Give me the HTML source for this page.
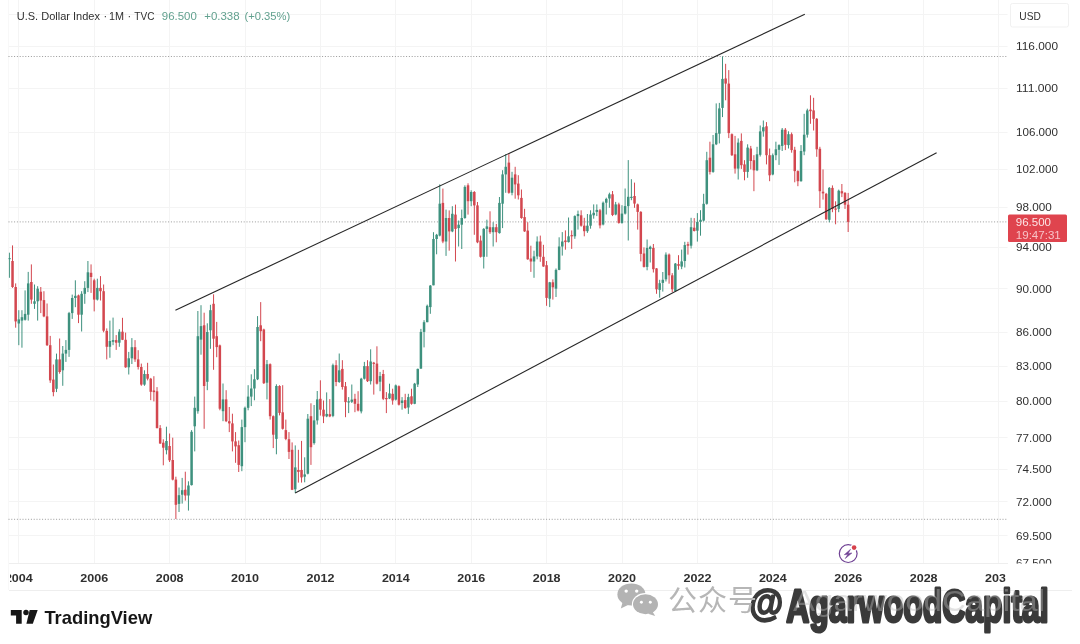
<!DOCTYPE html><html><head><meta charset="utf-8"><title>U.S. Dollar Index</title>
<style>html,body{margin:0;padding:0;background:#fff}body{width:1080px;height:644px;overflow:hidden;font-family:"Liberation Sans","Noto Sans CJK SC",sans-serif}svg{display:block;filter:blur(0.4px)}text{font-family:"Liberation Sans","Noto Sans CJK SC",sans-serif}</style></head><body>
<svg width="1080" height="644" viewBox="0 0 1080 644">
<rect width="1080" height="644" fill="#fff"/>
<defs><clipPath id="pane"><rect x="8.5" y="0" width="999" height="563.5"/></clipPath><clipPath id="taxis"><rect x="10" y="563" width="995.5" height="30"/></clipPath><clipPath id="paxis"><rect x="1008" y="0" width="72" height="563.5"/></clipPath></defs>
<g clip-path="url(#pane)" stroke="#f4f4f4" stroke-width="1" shape-rendering="crispEdges">
<line x1="18.8" y1="0" x2="18.8" y2="563.5"/>
<line x1="94.2" y1="0" x2="94.2" y2="563.5"/>
<line x1="169.6" y1="0" x2="169.6" y2="563.5"/>
<line x1="245.0" y1="0" x2="245.0" y2="563.5"/>
<line x1="320.4" y1="0" x2="320.4" y2="563.5"/>
<line x1="395.8" y1="0" x2="395.8" y2="563.5"/>
<line x1="471.2" y1="0" x2="471.2" y2="563.5"/>
<line x1="546.6" y1="0" x2="546.6" y2="563.5"/>
<line x1="622.0" y1="0" x2="622.0" y2="563.5"/>
<line x1="697.4" y1="0" x2="697.4" y2="563.5"/>
<line x1="772.8" y1="0" x2="772.8" y2="563.5"/>
<line x1="848.2" y1="0" x2="848.2" y2="563.5"/>
<line x1="923.6" y1="0" x2="923.6" y2="563.5"/>
<line x1="998.9" y1="0" x2="998.9" y2="563.5"/>
<line x1="8.5" y1="14.0" x2="1007.5" y2="14.0"/>
<line x1="8.5" y1="46.4" x2="1007.5" y2="46.4"/>
<line x1="8.5" y1="88.5" x2="1007.5" y2="88.5"/>
<line x1="8.5" y1="132.5" x2="1007.5" y2="132.5"/>
<line x1="8.5" y1="169.2" x2="1007.5" y2="169.2"/>
<line x1="8.5" y1="207.4" x2="1007.5" y2="207.4"/>
<line x1="8.5" y1="247.2" x2="1007.5" y2="247.2"/>
<line x1="8.5" y1="288.8" x2="1007.5" y2="288.8"/>
<line x1="8.5" y1="332.2" x2="1007.5" y2="332.2"/>
<line x1="8.5" y1="366.1" x2="1007.5" y2="366.1"/>
<line x1="8.5" y1="401.2" x2="1007.5" y2="401.2"/>
<line x1="8.5" y1="437.7" x2="1007.5" y2="437.7"/>
<line x1="8.5" y1="469.3" x2="1007.5" y2="469.3"/>
<line x1="8.5" y1="501.9" x2="1007.5" y2="501.9"/>
<line x1="8.5" y1="535.6" x2="1007.5" y2="535.6"/>
<line x1="8.5" y1="563.5" x2="1007.5" y2="563.5"/>
</g>
<g stroke="#eeeeee" stroke-width="1" shape-rendering="crispEdges">
<line x1="8.5" y1="563.5" x2="1007.5" y2="563.5"/>
<line x1="8.5" y1="590.5" x2="1072" y2="590.5"/>
</g>
<line x1="8.5" y1="0" x2="8.5" y2="590" stroke="#f8f8f8" stroke-width="1" shape-rendering="crispEdges"/>
<g stroke="#9a9a9a" stroke-width="1" stroke-dasharray="1 1.8" fill="none">
<line x1="8.5" y1="56.5" x2="1007.5" y2="56.5"/>
<line x1="8.5" y1="221.9" x2="1007.5" y2="221.9"/>
<line x1="8.5" y1="519.3" x2="1007.5" y2="519.3"/>
</g>
<g clip-path="url(#pane)">
<line x1="9.38" y1="252.7" x2="9.38" y2="277.8" stroke="#3e917e" stroke-width="1"/>
<rect x="8.13" y="258.0" width="2.5" height="1.2" fill="#3e917e"/>
<line x1="12.52" y1="245.4" x2="12.52" y2="287.9" stroke="#d3474f" stroke-width="1"/>
<rect x="11.27" y="261.0" width="2.5" height="26.0" fill="#d3474f"/>
<line x1="15.66" y1="283.4" x2="15.66" y2="327.7" stroke="#d3474f" stroke-width="1"/>
<rect x="14.41" y="287.0" width="2.5" height="34.4" fill="#d3474f"/>
<line x1="18.80" y1="310.2" x2="18.80" y2="345.2" stroke="#3e917e" stroke-width="1"/>
<rect x="17.55" y="319.4" width="2.5" height="4.1" fill="#3e917e"/>
<line x1="21.94" y1="310.2" x2="21.94" y2="347.7" stroke="#3e917e" stroke-width="1"/>
<rect x="20.69" y="317.2" width="2.5" height="3.4" fill="#3e917e"/>
<line x1="25.08" y1="290.4" x2="25.08" y2="320.6" stroke="#3e917e" stroke-width="1"/>
<rect x="23.83" y="313.9" width="2.5" height="5.9" fill="#3e917e"/>
<line x1="28.22" y1="271.9" x2="28.22" y2="320.6" stroke="#3e917e" stroke-width="1"/>
<rect x="26.97" y="283.4" width="2.5" height="31.3" fill="#3e917e"/>
<line x1="31.37" y1="264.4" x2="31.37" y2="303.8" stroke="#d3474f" stroke-width="1"/>
<rect x="30.12" y="282.0" width="2.5" height="17.6" fill="#d3474f"/>
<line x1="34.51" y1="284.5" x2="34.51" y2="308.9" stroke="#3e917e" stroke-width="1"/>
<rect x="33.26" y="301.3" width="2.5" height="2.5" fill="#3e917e"/>
<line x1="37.65" y1="286.2" x2="37.65" y2="320.6" stroke="#3e917e" stroke-width="1"/>
<rect x="36.40" y="288.7" width="2.5" height="12.6" fill="#3e917e"/>
<line x1="40.79" y1="287.0" x2="40.79" y2="313.1" stroke="#d3474f" stroke-width="1"/>
<rect x="39.54" y="291.7" width="2.5" height="8.8" fill="#d3474f"/>
<line x1="43.93" y1="291.2" x2="43.93" y2="317.2" stroke="#d3474f" stroke-width="1"/>
<rect x="42.68" y="300.1" width="2.5" height="16.3" fill="#d3474f"/>
<line x1="47.07" y1="303.5" x2="47.07" y2="346.0" stroke="#d3474f" stroke-width="1"/>
<rect x="45.82" y="316.4" width="2.5" height="28.8" fill="#d3474f"/>
<line x1="50.22" y1="335.9" x2="50.22" y2="382.9" stroke="#d3474f" stroke-width="1"/>
<rect x="48.97" y="345.2" width="2.5" height="35.2" fill="#d3474f"/>
<line x1="53.36" y1="364.5" x2="53.36" y2="396.3" stroke="#d3474f" stroke-width="1"/>
<rect x="52.11" y="379.6" width="2.5" height="12.5" fill="#d3474f"/>
<line x1="56.50" y1="353.6" x2="56.50" y2="392.1" stroke="#3e917e" stroke-width="1"/>
<rect x="55.25" y="359.4" width="2.5" height="29.4" fill="#3e917e"/>
<line x1="59.64" y1="338.5" x2="59.64" y2="373.7" stroke="#d3474f" stroke-width="1"/>
<rect x="58.39" y="359.4" width="2.5" height="12.6" fill="#d3474f"/>
<line x1="62.78" y1="346.0" x2="62.78" y2="385.8" stroke="#3e917e" stroke-width="1"/>
<rect x="61.53" y="353.6" width="2.5" height="16.7" fill="#3e917e"/>
<line x1="65.92" y1="340.1" x2="65.92" y2="361.9" stroke="#3e917e" stroke-width="1"/>
<rect x="64.67" y="349.9" width="2.5" height="3.7" fill="#3e917e"/>
<line x1="69.06" y1="311.9" x2="69.06" y2="356.9" stroke="#3e917e" stroke-width="1"/>
<rect x="67.81" y="313.1" width="2.5" height="36.8" fill="#3e917e"/>
<line x1="72.21" y1="294.6" x2="72.21" y2="318.9" stroke="#3e917e" stroke-width="1"/>
<rect x="70.96" y="298.0" width="2.5" height="15.1" fill="#3e917e"/>
<line x1="75.35" y1="280.3" x2="75.35" y2="307.2" stroke="#3e917e" stroke-width="1"/>
<rect x="74.10" y="295.8" width="2.5" height="2.2" fill="#3e917e"/>
<line x1="78.49" y1="294.6" x2="78.49" y2="323.1" stroke="#d3474f" stroke-width="1"/>
<rect x="77.24" y="295.4" width="2.5" height="19.3" fill="#d3474f"/>
<line x1="81.63" y1="291.2" x2="81.63" y2="331.5" stroke="#3e917e" stroke-width="1"/>
<rect x="80.38" y="293.8" width="2.5" height="20.9" fill="#3e917e"/>
<line x1="84.77" y1="281.2" x2="84.77" y2="303.8" stroke="#3e917e" stroke-width="1"/>
<rect x="83.52" y="287.9" width="2.5" height="5.9" fill="#3e917e"/>
<line x1="87.91" y1="261.0" x2="87.91" y2="292.1" stroke="#3e917e" stroke-width="1"/>
<rect x="86.66" y="272.3" width="2.5" height="15.6" fill="#3e917e"/>
<line x1="91.05" y1="264.4" x2="91.05" y2="292.9" stroke="#d3474f" stroke-width="1"/>
<rect x="89.80" y="272.8" width="2.5" height="4.2" fill="#d3474f"/>
<line x1="94.20" y1="278.7" x2="94.20" y2="311.4" stroke="#d3474f" stroke-width="1"/>
<rect x="92.95" y="280.3" width="2.5" height="19.3" fill="#d3474f"/>
<line x1="97.34" y1="278.7" x2="97.34" y2="300.5" stroke="#3e917e" stroke-width="1"/>
<rect x="96.09" y="287.9" width="2.5" height="11.7" fill="#3e917e"/>
<line x1="100.48" y1="276.1" x2="100.48" y2="300.5" stroke="#d3474f" stroke-width="1"/>
<rect x="99.23" y="287.9" width="2.5" height="3.3" fill="#d3474f"/>
<line x1="103.62" y1="284.5" x2="103.62" y2="332.3" stroke="#d3474f" stroke-width="1"/>
<rect x="102.37" y="291.2" width="2.5" height="39.5" fill="#d3474f"/>
<line x1="106.76" y1="328.4" x2="106.76" y2="359.4" stroke="#d3474f" stroke-width="1"/>
<rect x="105.51" y="330.9" width="2.5" height="15.9" fill="#d3474f"/>
<line x1="109.90" y1="320.6" x2="109.90" y2="357.8" stroke="#3e917e" stroke-width="1"/>
<rect x="108.65" y="341.0" width="2.5" height="5.8" fill="#3e917e"/>
<line x1="113.05" y1="317.6" x2="113.05" y2="345.2" stroke="#3e917e" stroke-width="1"/>
<rect x="111.80" y="340.1" width="2.5" height="1.7" fill="#3e917e"/>
<line x1="116.19" y1="335.1" x2="116.19" y2="349.9" stroke="#d3474f" stroke-width="1"/>
<rect x="114.94" y="340.1" width="2.5" height="2.6" fill="#d3474f"/>
<line x1="119.33" y1="329.2" x2="119.33" y2="346.8" stroke="#3e917e" stroke-width="1"/>
<rect x="118.08" y="331.7" width="2.5" height="11.0" fill="#3e917e"/>
<line x1="122.47" y1="317.8" x2="122.47" y2="340.1" stroke="#d3474f" stroke-width="1"/>
<rect x="121.22" y="331.7" width="2.5" height="8.1" fill="#d3474f"/>
<line x1="125.61" y1="332.6" x2="125.61" y2="367.8" stroke="#d3474f" stroke-width="1"/>
<rect x="124.36" y="339.8" width="2.5" height="27.5" fill="#d3474f"/>
<line x1="128.75" y1="351.9" x2="128.75" y2="374.5" stroke="#3e917e" stroke-width="1"/>
<rect x="127.50" y="358.3" width="2.5" height="9.0" fill="#3e917e"/>
<line x1="131.89" y1="338.1" x2="131.89" y2="364.0" stroke="#3e917e" stroke-width="1"/>
<rect x="130.64" y="347.2" width="2.5" height="11.1" fill="#3e917e"/>
<line x1="135.04" y1="340.1" x2="135.04" y2="361.9" stroke="#d3474f" stroke-width="1"/>
<rect x="133.79" y="347.2" width="2.5" height="12.2" fill="#d3474f"/>
<line x1="138.18" y1="350.2" x2="138.18" y2="369.5" stroke="#d3474f" stroke-width="1"/>
<rect x="136.93" y="359.4" width="2.5" height="7.6" fill="#d3474f"/>
<line x1="141.32" y1="363.6" x2="141.32" y2="385.8" stroke="#d3474f" stroke-width="1"/>
<rect x="140.07" y="367.0" width="2.5" height="17.6" fill="#d3474f"/>
<line x1="144.46" y1="370.3" x2="144.46" y2="385.8" stroke="#3e917e" stroke-width="1"/>
<rect x="143.21" y="374.0" width="2.5" height="10.6" fill="#3e917e"/>
<line x1="147.60" y1="362.8" x2="147.60" y2="380.4" stroke="#d3474f" stroke-width="1"/>
<rect x="146.35" y="374.0" width="2.5" height="4.7" fill="#d3474f"/>
<line x1="150.74" y1="377.9" x2="150.74" y2="400.2" stroke="#d3474f" stroke-width="1"/>
<rect x="149.49" y="378.7" width="2.5" height="13.1" fill="#d3474f"/>
<line x1="153.88" y1="376.2" x2="153.88" y2="401.4" stroke="#d3474f" stroke-width="1"/>
<rect x="152.63" y="390.5" width="2.5" height="1.6" fill="#d3474f"/>
<line x1="157.03" y1="387.1" x2="157.03" y2="428.4" stroke="#d3474f" stroke-width="1"/>
<rect x="155.78" y="391.3" width="2.5" height="36.8" fill="#d3474f"/>
<line x1="160.17" y1="425.1" x2="160.17" y2="443.9" stroke="#d3474f" stroke-width="1"/>
<rect x="158.92" y="428.1" width="2.5" height="15.4" fill="#d3474f"/>
<line x1="163.31" y1="439.3" x2="163.31" y2="465.3" stroke="#d3474f" stroke-width="1"/>
<rect x="162.06" y="442.7" width="2.5" height="5.0" fill="#d3474f"/>
<line x1="166.45" y1="426.7" x2="166.45" y2="454.4" stroke="#3e917e" stroke-width="1"/>
<rect x="165.20" y="441.0" width="2.5" height="9.2" fill="#3e917e"/>
<line x1="169.59" y1="433.5" x2="169.59" y2="462.0" stroke="#d3474f" stroke-width="1"/>
<rect x="168.34" y="446.0" width="2.5" height="14.3" fill="#d3474f"/>
<line x1="172.73" y1="437.7" x2="172.73" y2="480.4" stroke="#d3474f" stroke-width="1"/>
<rect x="171.48" y="460.0" width="2.5" height="19.6" fill="#d3474f"/>
<line x1="175.88" y1="476.7" x2="175.88" y2="519.0" stroke="#d3474f" stroke-width="1"/>
<rect x="174.63" y="479.6" width="2.5" height="25.2" fill="#d3474f"/>
<line x1="179.02" y1="487.5" x2="179.02" y2="512.0" stroke="#3e917e" stroke-width="1"/>
<rect x="177.77" y="495.2" width="2.5" height="8.7" fill="#3e917e"/>
<line x1="182.16" y1="477.9" x2="182.16" y2="503.6" stroke="#3e917e" stroke-width="1"/>
<rect x="180.91" y="490.2" width="2.5" height="4.5" fill="#3e917e"/>
<line x1="185.30" y1="471.7" x2="185.30" y2="500.6" stroke="#d3474f" stroke-width="1"/>
<rect x="184.05" y="489.7" width="2.5" height="5.8" fill="#d3474f"/>
<line x1="188.44" y1="481.3" x2="188.44" y2="510.6" stroke="#3e917e" stroke-width="1"/>
<rect x="187.19" y="485.5" width="2.5" height="10.0" fill="#3e917e"/>
<line x1="191.58" y1="430.1" x2="191.58" y2="485.5" stroke="#3e917e" stroke-width="1"/>
<rect x="190.33" y="431.8" width="2.5" height="53.3" fill="#3e917e"/>
<line x1="194.72" y1="396.6" x2="194.72" y2="451.4" stroke="#3e917e" stroke-width="1"/>
<rect x="193.47" y="407.8" width="2.5" height="18.5" fill="#3e917e"/>
<line x1="197.87" y1="311.0" x2="197.87" y2="413.7" stroke="#3e917e" stroke-width="1"/>
<rect x="196.62" y="336.2" width="2.5" height="75.0" fill="#3e917e"/>
<line x1="201.01" y1="305.2" x2="201.01" y2="354.7" stroke="#3e917e" stroke-width="1"/>
<rect x="199.76" y="326.1" width="2.5" height="13.5" fill="#3e917e"/>
<line x1="204.15" y1="312.7" x2="204.15" y2="428.8" stroke="#d3474f" stroke-width="1"/>
<rect x="202.90" y="325.3" width="2.5" height="60.7" fill="#d3474f"/>
<line x1="207.29" y1="323.3" x2="207.29" y2="390.2" stroke="#3e917e" stroke-width="1"/>
<rect x="206.04" y="332.0" width="2.5" height="49.8" fill="#3e917e"/>
<line x1="210.43" y1="304.8" x2="210.43" y2="348.8" stroke="#3e917e" stroke-width="1"/>
<rect x="209.18" y="310.2" width="2.5" height="20.1" fill="#3e917e"/>
<line x1="213.57" y1="294.3" x2="213.57" y2="369.8" stroke="#d3474f" stroke-width="1"/>
<rect x="212.32" y="303.8" width="2.5" height="34.9" fill="#d3474f"/>
<line x1="216.71" y1="321.9" x2="216.71" y2="357.2" stroke="#d3474f" stroke-width="1"/>
<rect x="215.46" y="336.2" width="2.5" height="10.9" fill="#d3474f"/>
<line x1="219.86" y1="344.6" x2="219.86" y2="410.3" stroke="#d3474f" stroke-width="1"/>
<rect x="218.61" y="345.4" width="2.5" height="63.3" fill="#d3474f"/>
<line x1="223.00" y1="383.5" x2="223.00" y2="421.2" stroke="#3e917e" stroke-width="1"/>
<rect x="221.75" y="399.4" width="2.5" height="11.8" fill="#3e917e"/>
<line x1="226.14" y1="390.2" x2="226.14" y2="422.1" stroke="#d3474f" stroke-width="1"/>
<rect x="224.89" y="399.4" width="2.5" height="21.8" fill="#d3474f"/>
<line x1="229.28" y1="407.0" x2="229.28" y2="432.1" stroke="#d3474f" stroke-width="1"/>
<rect x="228.03" y="421.2" width="2.5" height="2.2" fill="#d3474f"/>
<line x1="232.42" y1="413.7" x2="232.42" y2="451.4" stroke="#d3474f" stroke-width="1"/>
<rect x="231.17" y="423.4" width="2.5" height="18.0" fill="#d3474f"/>
<line x1="235.56" y1="432.1" x2="235.56" y2="462.8" stroke="#d3474f" stroke-width="1"/>
<rect x="234.31" y="441.4" width="2.5" height="5.0" fill="#d3474f"/>
<line x1="238.71" y1="440.5" x2="238.71" y2="472.0" stroke="#d3474f" stroke-width="1"/>
<rect x="237.46" y="445.2" width="2.5" height="19.7" fill="#d3474f"/>
<line x1="241.85" y1="419.6" x2="241.85" y2="471.2" stroke="#3e917e" stroke-width="1"/>
<rect x="240.60" y="427.1" width="2.5" height="39.1" fill="#3e917e"/>
<line x1="244.99" y1="406.6" x2="244.99" y2="442.2" stroke="#3e917e" stroke-width="1"/>
<rect x="243.74" y="407.8" width="2.5" height="19.3" fill="#3e917e"/>
<line x1="248.13" y1="385.2" x2="248.13" y2="410.3" stroke="#3e917e" stroke-width="1"/>
<rect x="246.88" y="396.6" width="2.5" height="11.2" fill="#3e917e"/>
<line x1="251.27" y1="374.3" x2="251.27" y2="406.1" stroke="#3e917e" stroke-width="1"/>
<rect x="250.02" y="388.5" width="2.5" height="8.1" fill="#3e917e"/>
<line x1="254.41" y1="369.2" x2="254.41" y2="400.3" stroke="#3e917e" stroke-width="1"/>
<rect x="253.16" y="379.3" width="2.5" height="9.2" fill="#3e917e"/>
<line x1="257.55" y1="316.1" x2="257.55" y2="380.1" stroke="#3e917e" stroke-width="1"/>
<rect x="256.30" y="327.0" width="2.5" height="52.3" fill="#3e917e"/>
<line x1="260.70" y1="302.1" x2="260.70" y2="341.2" stroke="#d3474f" stroke-width="1"/>
<rect x="259.45" y="325.3" width="2.5" height="5.9" fill="#d3474f"/>
<line x1="263.84" y1="328.7" x2="263.84" y2="384.0" stroke="#d3474f" stroke-width="1"/>
<rect x="262.59" y="329.5" width="2.5" height="53.7" fill="#d3474f"/>
<line x1="266.98" y1="360.0" x2="266.98" y2="399.4" stroke="#3e917e" stroke-width="1"/>
<rect x="265.73" y="364.2" width="2.5" height="18.5" fill="#3e917e"/>
<line x1="270.12" y1="363.4" x2="270.12" y2="419.6" stroke="#d3474f" stroke-width="1"/>
<rect x="268.87" y="364.2" width="2.5" height="52.0" fill="#d3474f"/>
<line x1="273.26" y1="415.4" x2="273.26" y2="448.1" stroke="#d3474f" stroke-width="1"/>
<rect x="272.01" y="416.2" width="2.5" height="18.5" fill="#d3474f"/>
<line x1="276.40" y1="384.3" x2="276.40" y2="454.3" stroke="#3e917e" stroke-width="1"/>
<rect x="275.15" y="386.0" width="2.5" height="52.9" fill="#3e917e"/>
<line x1="279.54" y1="385.2" x2="279.54" y2="415.4" stroke="#d3474f" stroke-width="1"/>
<rect x="278.29" y="386.0" width="2.5" height="26.9" fill="#d3474f"/>
<line x1="282.69" y1="385.2" x2="282.69" y2="429.6" stroke="#d3474f" stroke-width="1"/>
<rect x="281.44" y="412.3" width="2.5" height="16.5" fill="#d3474f"/>
<line x1="285.83" y1="419.6" x2="285.83" y2="440.2" stroke="#d3474f" stroke-width="1"/>
<rect x="284.58" y="430.1" width="2.5" height="8.8" fill="#d3474f"/>
<line x1="288.97" y1="432.1" x2="288.97" y2="459.0" stroke="#d3474f" stroke-width="1"/>
<rect x="287.72" y="439.2" width="2.5" height="12.7" fill="#d3474f"/>
<line x1="292.11" y1="442.4" x2="292.11" y2="490.1" stroke="#d3474f" stroke-width="1"/>
<rect x="290.86" y="449.8" width="2.5" height="40.0" fill="#d3474f"/>
<line x1="295.25" y1="445.4" x2="295.25" y2="493.1" stroke="#3e917e" stroke-width="1"/>
<rect x="294.00" y="467.4" width="2.5" height="21.9" fill="#3e917e"/>
<line x1="298.39" y1="449.8" x2="298.39" y2="482.6" stroke="#d3474f" stroke-width="1"/>
<rect x="297.14" y="470.0" width="2.5" height="1.9" fill="#d3474f"/>
<line x1="301.54" y1="440.9" x2="301.54" y2="482.6" stroke="#d3474f" stroke-width="1"/>
<rect x="300.29" y="470.0" width="2.5" height="7.4" fill="#d3474f"/>
<line x1="304.68" y1="457.3" x2="304.68" y2="482.3" stroke="#3e917e" stroke-width="1"/>
<rect x="303.43" y="474.4" width="2.5" height="2.3" fill="#3e917e"/>
<line x1="307.82" y1="414.0" x2="307.82" y2="474.4" stroke="#3e917e" stroke-width="1"/>
<rect x="306.57" y="418.7" width="2.5" height="55.0" fill="#3e917e"/>
<line x1="310.96" y1="403.3" x2="310.96" y2="464.9" stroke="#d3474f" stroke-width="1"/>
<rect x="309.71" y="416.2" width="2.5" height="31.0" fill="#d3474f"/>
<line x1="314.10" y1="405.0" x2="314.10" y2="444.7" stroke="#3e917e" stroke-width="1"/>
<rect x="312.85" y="420.4" width="2.5" height="22.7" fill="#3e917e"/>
<line x1="317.24" y1="391.0" x2="317.24" y2="424.6" stroke="#3e917e" stroke-width="1"/>
<rect x="315.99" y="399.4" width="2.5" height="21.0" fill="#3e917e"/>
<line x1="320.38" y1="380.3" x2="320.38" y2="415.6" stroke="#d3474f" stroke-width="1"/>
<rect x="319.13" y="398.8" width="2.5" height="10.9" fill="#d3474f"/>
<line x1="323.53" y1="400.5" x2="323.53" y2="423.1" stroke="#d3474f" stroke-width="1"/>
<rect x="322.28" y="409.7" width="2.5" height="6.7" fill="#d3474f"/>
<line x1="326.67" y1="392.4" x2="326.67" y2="417.2" stroke="#3e917e" stroke-width="1"/>
<rect x="325.42" y="413.9" width="2.5" height="2.5" fill="#3e917e"/>
<line x1="329.81" y1="399.1" x2="329.81" y2="417.2" stroke="#d3474f" stroke-width="1"/>
<rect x="328.56" y="414.2" width="2.5" height="2.2" fill="#d3474f"/>
<line x1="332.95" y1="363.6" x2="332.95" y2="417.2" stroke="#3e917e" stroke-width="1"/>
<rect x="331.70" y="365.2" width="2.5" height="50.7" fill="#3e917e"/>
<line x1="336.09" y1="360.2" x2="336.09" y2="386.2" stroke="#d3474f" stroke-width="1"/>
<rect x="334.84" y="365.2" width="2.5" height="16.8" fill="#d3474f"/>
<line x1="339.23" y1="353.5" x2="339.23" y2="382.9" stroke="#3e917e" stroke-width="1"/>
<rect x="337.98" y="370.3" width="2.5" height="11.7" fill="#3e917e"/>
<line x1="342.37" y1="360.2" x2="342.37" y2="389.6" stroke="#d3474f" stroke-width="1"/>
<rect x="341.12" y="368.9" width="2.5" height="18.1" fill="#d3474f"/>
<line x1="345.52" y1="382.0" x2="345.52" y2="417.2" stroke="#d3474f" stroke-width="1"/>
<rect x="344.27" y="386.2" width="2.5" height="15.9" fill="#d3474f"/>
<line x1="348.66" y1="397.1" x2="348.66" y2="413.1" stroke="#3e917e" stroke-width="1"/>
<rect x="347.41" y="401.3" width="2.5" height="1.2" fill="#3e917e"/>
<line x1="351.80" y1="384.5" x2="351.80" y2="403.0" stroke="#3e917e" stroke-width="1"/>
<rect x="350.55" y="399.6" width="2.5" height="2.2" fill="#3e917e"/>
<line x1="354.94" y1="393.8" x2="354.94" y2="412.2" stroke="#d3474f" stroke-width="1"/>
<rect x="353.69" y="398.8" width="2.5" height="5.0" fill="#d3474f"/>
<line x1="358.08" y1="391.2" x2="358.08" y2="411.4" stroke="#d3474f" stroke-width="1"/>
<rect x="356.83" y="403.8" width="2.5" height="6.7" fill="#d3474f"/>
<line x1="361.22" y1="377.8" x2="361.22" y2="413.4" stroke="#3e917e" stroke-width="1"/>
<rect x="359.97" y="378.7" width="2.5" height="32.7" fill="#3e917e"/>
<line x1="364.37" y1="361.9" x2="364.37" y2="379.5" stroke="#3e917e" stroke-width="1"/>
<rect x="363.12" y="366.1" width="2.5" height="12.6" fill="#3e917e"/>
<line x1="367.51" y1="360.2" x2="367.51" y2="382.0" stroke="#d3474f" stroke-width="1"/>
<rect x="366.26" y="366.1" width="2.5" height="15.1" fill="#d3474f"/>
<line x1="370.65" y1="349.3" x2="370.65" y2="384.5" stroke="#3e917e" stroke-width="1"/>
<rect x="369.40" y="361.5" width="2.5" height="19.7" fill="#3e917e"/>
<line x1="373.79" y1="361.9" x2="373.79" y2="394.6" stroke="#d3474f" stroke-width="1"/>
<rect x="372.54" y="362.7" width="2.5" height="1.2" fill="#d3474f"/>
<line x1="376.93" y1="346.3" x2="376.93" y2="384.5" stroke="#d3474f" stroke-width="1"/>
<rect x="375.68" y="363.6" width="2.5" height="20.1" fill="#d3474f"/>
<line x1="380.07" y1="371.9" x2="380.07" y2="391.2" stroke="#3e917e" stroke-width="1"/>
<rect x="378.82" y="376.1" width="2.5" height="5.6" fill="#3e917e"/>
<line x1="383.21" y1="369.9" x2="383.21" y2="400.1" stroke="#d3474f" stroke-width="1"/>
<rect x="381.96" y="374.0" width="2.5" height="24.8" fill="#d3474f"/>
<line x1="386.36" y1="392.1" x2="386.36" y2="413.1" stroke="#d3474f" stroke-width="1"/>
<rect x="385.11" y="398.0" width="2.5" height="1.2" fill="#d3474f"/>
<line x1="389.50" y1="383.7" x2="389.50" y2="399.1" stroke="#3e917e" stroke-width="1"/>
<rect x="388.25" y="393.4" width="2.5" height="5.1" fill="#3e917e"/>
<line x1="392.64" y1="388.7" x2="392.64" y2="404.7" stroke="#d3474f" stroke-width="1"/>
<rect x="391.39" y="393.8" width="2.5" height="6.7" fill="#d3474f"/>
<line x1="395.78" y1="384.5" x2="395.78" y2="400.5" stroke="#3e917e" stroke-width="1"/>
<rect x="394.53" y="385.4" width="2.5" height="14.2" fill="#3e917e"/>
<line x1="398.92" y1="385.4" x2="398.92" y2="405.5" stroke="#d3474f" stroke-width="1"/>
<rect x="397.67" y="386.2" width="2.5" height="18.5" fill="#d3474f"/>
<line x1="402.06" y1="397.1" x2="402.06" y2="409.7" stroke="#3e917e" stroke-width="1"/>
<rect x="400.81" y="400.5" width="2.5" height="2.5" fill="#3e917e"/>
<line x1="405.20" y1="393.8" x2="405.20" y2="408.9" stroke="#d3474f" stroke-width="1"/>
<rect x="403.95" y="400.1" width="2.5" height="7.9" fill="#d3474f"/>
<line x1="408.35" y1="393.8" x2="408.35" y2="413.9" stroke="#3e917e" stroke-width="1"/>
<rect x="407.10" y="397.1" width="2.5" height="10.4" fill="#3e917e"/>
<line x1="411.49" y1="388.7" x2="411.49" y2="404.7" stroke="#d3474f" stroke-width="1"/>
<rect x="410.24" y="396.3" width="2.5" height="7.5" fill="#d3474f"/>
<line x1="414.63" y1="382.9" x2="414.63" y2="404.2" stroke="#3e917e" stroke-width="1"/>
<rect x="413.38" y="383.7" width="2.5" height="20.1" fill="#3e917e"/>
<line x1="417.77" y1="368.6" x2="417.77" y2="387.0" stroke="#3e917e" stroke-width="1"/>
<rect x="416.52" y="368.9" width="2.5" height="15.6" fill="#3e917e"/>
<line x1="420.91" y1="328.9" x2="420.91" y2="368.9" stroke="#3e917e" stroke-width="1"/>
<rect x="419.66" y="331.9" width="2.5" height="36.7" fill="#3e917e"/>
<line x1="424.05" y1="320.2" x2="424.05" y2="347.4" stroke="#3e917e" stroke-width="1"/>
<rect x="422.80" y="322.2" width="2.5" height="9.7" fill="#3e917e"/>
<line x1="427.20" y1="304.6" x2="427.20" y2="322.2" stroke="#3e917e" stroke-width="1"/>
<rect x="425.95" y="305.8" width="2.5" height="16.4" fill="#3e917e"/>
<line x1="430.34" y1="285.0" x2="430.34" y2="313.8" stroke="#3e917e" stroke-width="1"/>
<rect x="429.09" y="285.6" width="2.5" height="21.5" fill="#3e917e"/>
<line x1="433.48" y1="232.2" x2="433.48" y2="285.3" stroke="#3e917e" stroke-width="1"/>
<rect x="432.23" y="239.0" width="2.5" height="46.3" fill="#3e917e"/>
<line x1="436.62" y1="233.9" x2="436.62" y2="254.3" stroke="#3e917e" stroke-width="1"/>
<rect x="435.37" y="234.8" width="2.5" height="4.2" fill="#3e917e"/>
<line x1="439.76" y1="184.4" x2="439.76" y2="236.4" stroke="#3e917e" stroke-width="1"/>
<rect x="438.51" y="203.7" width="2.5" height="31.9" fill="#3e917e"/>
<line x1="442.90" y1="188.6" x2="442.90" y2="243.2" stroke="#d3474f" stroke-width="1"/>
<rect x="441.65" y="202.9" width="2.5" height="38.6" fill="#d3474f"/>
<line x1="446.04" y1="209.6" x2="446.04" y2="255.9" stroke="#3e917e" stroke-width="1"/>
<rect x="444.79" y="218.0" width="2.5" height="23.5" fill="#3e917e"/>
<line x1="449.19" y1="210.4" x2="449.19" y2="250.7" stroke="#d3474f" stroke-width="1"/>
<rect x="447.94" y="218.0" width="2.5" height="13.4" fill="#d3474f"/>
<line x1="452.33" y1="206.2" x2="452.33" y2="232.2" stroke="#3e917e" stroke-width="1"/>
<rect x="451.08" y="213.8" width="2.5" height="17.6" fill="#3e917e"/>
<line x1="455.47" y1="204.6" x2="455.47" y2="261.5" stroke="#d3474f" stroke-width="1"/>
<rect x="454.22" y="214.6" width="2.5" height="14.3" fill="#d3474f"/>
<line x1="458.61" y1="220.5" x2="458.61" y2="246.5" stroke="#3e917e" stroke-width="1"/>
<rect x="457.36" y="224.7" width="2.5" height="3.4" fill="#3e917e"/>
<line x1="461.75" y1="209.6" x2="461.75" y2="249.0" stroke="#3e917e" stroke-width="1"/>
<rect x="460.50" y="218.0" width="2.5" height="6.7" fill="#3e917e"/>
<line x1="464.89" y1="185.3" x2="464.89" y2="218.8" stroke="#3e917e" stroke-width="1"/>
<rect x="463.64" y="186.9" width="2.5" height="31.1" fill="#3e917e"/>
<line x1="468.03" y1="183.3" x2="468.03" y2="214.6" stroke="#d3474f" stroke-width="1"/>
<rect x="466.78" y="185.3" width="2.5" height="15.9" fill="#d3474f"/>
<line x1="471.18" y1="190.3" x2="471.18" y2="206.2" stroke="#3e917e" stroke-width="1"/>
<rect x="469.93" y="192.0" width="2.5" height="9.2" fill="#3e917e"/>
<line x1="474.32" y1="191.1" x2="474.32" y2="234.8" stroke="#d3474f" stroke-width="1"/>
<rect x="473.07" y="192.0" width="2.5" height="13.4" fill="#d3474f"/>
<line x1="477.46" y1="202.0" x2="477.46" y2="243.2" stroke="#d3474f" stroke-width="1"/>
<rect x="476.21" y="205.4" width="2.5" height="36.9" fill="#d3474f"/>
<line x1="480.60" y1="235.6" x2="480.60" y2="257.6" stroke="#d3474f" stroke-width="1"/>
<rect x="479.35" y="240.6" width="2.5" height="16.2" fill="#d3474f"/>
<line x1="483.74" y1="228.1" x2="483.74" y2="268.5" stroke="#3e917e" stroke-width="1"/>
<rect x="482.49" y="228.9" width="2.5" height="27.9" fill="#3e917e"/>
<line x1="486.88" y1="219.7" x2="486.88" y2="256.8" stroke="#3e917e" stroke-width="1"/>
<rect x="485.63" y="226.4" width="2.5" height="2.5" fill="#3e917e"/>
<line x1="490.03" y1="211.3" x2="490.03" y2="233.9" stroke="#d3474f" stroke-width="1"/>
<rect x="488.78" y="227.2" width="2.5" height="5.0" fill="#d3474f"/>
<line x1="493.17" y1="222.2" x2="493.17" y2="246.5" stroke="#3e917e" stroke-width="1"/>
<rect x="491.92" y="227.2" width="2.5" height="5.0" fill="#3e917e"/>
<line x1="496.31" y1="223.9" x2="496.31" y2="242.3" stroke="#d3474f" stroke-width="1"/>
<rect x="495.06" y="227.2" width="2.5" height="5.0" fill="#d3474f"/>
<line x1="499.45" y1="197.0" x2="499.45" y2="233.6" stroke="#3e917e" stroke-width="1"/>
<rect x="498.20" y="202.9" width="2.5" height="30.2" fill="#3e917e"/>
<line x1="502.59" y1="170.2" x2="502.59" y2="228.1" stroke="#3e917e" stroke-width="1"/>
<rect x="501.34" y="174.4" width="2.5" height="29.3" fill="#3e917e"/>
<line x1="505.73" y1="154.2" x2="505.73" y2="192.8" stroke="#3e917e" stroke-width="1"/>
<rect x="504.48" y="166.8" width="2.5" height="7.6" fill="#3e917e"/>
<line x1="508.87" y1="153.4" x2="508.87" y2="193.7" stroke="#d3474f" stroke-width="1"/>
<rect x="507.62" y="162.6" width="2.5" height="30.2" fill="#d3474f"/>
<line x1="512.02" y1="171.8" x2="512.02" y2="195.3" stroke="#3e917e" stroke-width="1"/>
<rect x="510.77" y="177.7" width="2.5" height="15.1" fill="#3e917e"/>
<line x1="515.16" y1="166.8" x2="515.16" y2="198.7" stroke="#d3474f" stroke-width="1"/>
<rect x="513.91" y="174.4" width="2.5" height="10.0" fill="#d3474f"/>
<line x1="518.30" y1="175.2" x2="518.30" y2="199.5" stroke="#d3474f" stroke-width="1"/>
<rect x="517.05" y="183.6" width="2.5" height="11.7" fill="#d3474f"/>
<line x1="521.44" y1="189.5" x2="521.44" y2="218.8" stroke="#d3474f" stroke-width="1"/>
<rect x="520.19" y="197.9" width="2.5" height="20.1" fill="#d3474f"/>
<line x1="524.58" y1="208.8" x2="524.58" y2="231.9" stroke="#d3474f" stroke-width="1"/>
<rect x="523.33" y="217.1" width="2.5" height="14.3" fill="#d3474f"/>
<line x1="527.72" y1="222.2" x2="527.72" y2="259.8" stroke="#d3474f" stroke-width="1"/>
<rect x="526.47" y="230.6" width="2.5" height="28.7" fill="#d3474f"/>
<line x1="530.86" y1="245.7" x2="530.86" y2="271.9" stroke="#d3474f" stroke-width="1"/>
<rect x="529.61" y="258.5" width="2.5" height="3.0" fill="#d3474f"/>
<line x1="534.01" y1="250.7" x2="534.01" y2="277.8" stroke="#3e917e" stroke-width="1"/>
<rect x="532.76" y="256.4" width="2.5" height="5.1" fill="#3e917e"/>
<line x1="537.15" y1="236.4" x2="537.15" y2="259.3" stroke="#3e917e" stroke-width="1"/>
<rect x="535.90" y="241.5" width="2.5" height="14.9" fill="#3e917e"/>
<line x1="540.29" y1="235.6" x2="540.29" y2="261.8" stroke="#d3474f" stroke-width="1"/>
<rect x="539.04" y="241.5" width="2.5" height="15.3" fill="#d3474f"/>
<line x1="543.43" y1="244.8" x2="543.43" y2="266.8" stroke="#d3474f" stroke-width="1"/>
<rect x="542.18" y="256.8" width="2.5" height="9.7" fill="#d3474f"/>
<line x1="546.57" y1="261.0" x2="546.57" y2="305.8" stroke="#d3474f" stroke-width="1"/>
<rect x="545.32" y="265.2" width="2.5" height="32.7" fill="#d3474f"/>
<line x1="549.71" y1="281.9" x2="549.71" y2="307.1" stroke="#3e917e" stroke-width="1"/>
<rect x="548.46" y="282.3" width="2.5" height="16.4" fill="#3e917e"/>
<line x1="552.86" y1="279.4" x2="552.86" y2="299.6" stroke="#d3474f" stroke-width="1"/>
<rect x="551.61" y="282.3" width="2.5" height="5.0" fill="#d3474f"/>
<line x1="556.00" y1="268.5" x2="556.00" y2="297.0" stroke="#3e917e" stroke-width="1"/>
<rect x="554.75" y="269.9" width="2.5" height="18.8" fill="#3e917e"/>
<line x1="559.14" y1="237.3" x2="559.14" y2="270.2" stroke="#3e917e" stroke-width="1"/>
<rect x="557.89" y="246.5" width="2.5" height="23.4" fill="#3e917e"/>
<line x1="562.28" y1="232.1" x2="562.28" y2="255.6" stroke="#3e917e" stroke-width="1"/>
<rect x="561.03" y="241.5" width="2.5" height="5.0" fill="#3e917e"/>
<line x1="565.42" y1="230.4" x2="565.42" y2="249.7" stroke="#d3474f" stroke-width="1"/>
<rect x="564.17" y="240.5" width="2.5" height="1.6" fill="#d3474f"/>
<line x1="568.56" y1="217.5" x2="568.56" y2="242.5" stroke="#3e917e" stroke-width="1"/>
<rect x="567.31" y="236.3" width="2.5" height="5.8" fill="#3e917e"/>
<line x1="571.70" y1="230.4" x2="571.70" y2="248.9" stroke="#d3474f" stroke-width="1"/>
<rect x="570.45" y="235.1" width="2.5" height="1.2" fill="#d3474f"/>
<line x1="574.85" y1="215.3" x2="574.85" y2="238.8" stroke="#3e917e" stroke-width="1"/>
<rect x="573.60" y="216.1" width="2.5" height="20.2" fill="#3e917e"/>
<line x1="577.99" y1="210.6" x2="577.99" y2="229.6" stroke="#3e917e" stroke-width="1"/>
<rect x="576.74" y="214.0" width="2.5" height="2.1" fill="#3e917e"/>
<line x1="581.13" y1="210.3" x2="581.13" y2="226.7" stroke="#d3474f" stroke-width="1"/>
<rect x="579.88" y="215.3" width="2.5" height="10.4" fill="#d3474f"/>
<line x1="584.27" y1="217.8" x2="584.27" y2="236.3" stroke="#d3474f" stroke-width="1"/>
<rect x="583.02" y="225.7" width="2.5" height="5.5" fill="#d3474f"/>
<line x1="587.41" y1="214.0" x2="587.41" y2="232.9" stroke="#3e917e" stroke-width="1"/>
<rect x="586.16" y="225.7" width="2.5" height="5.5" fill="#3e917e"/>
<line x1="590.55" y1="210.3" x2="590.55" y2="228.7" stroke="#3e917e" stroke-width="1"/>
<rect x="589.30" y="214.5" width="2.5" height="11.2" fill="#3e917e"/>
<line x1="593.69" y1="204.4" x2="593.69" y2="218.7" stroke="#3e917e" stroke-width="1"/>
<rect x="592.44" y="212.8" width="2.5" height="2.5" fill="#3e917e"/>
<line x1="596.84" y1="204.4" x2="596.84" y2="216.1" stroke="#3e917e" stroke-width="1"/>
<rect x="595.59" y="209.9" width="2.5" height="2.0" fill="#3e917e"/>
<line x1="599.98" y1="208.9" x2="599.98" y2="228.4" stroke="#d3474f" stroke-width="1"/>
<rect x="598.73" y="210.3" width="2.5" height="15.1" fill="#d3474f"/>
<line x1="603.12" y1="201.5" x2="603.12" y2="225.4" stroke="#3e917e" stroke-width="1"/>
<rect x="601.87" y="202.7" width="2.5" height="21.8" fill="#3e917e"/>
<line x1="606.26" y1="197.7" x2="606.26" y2="214.5" stroke="#3e917e" stroke-width="1"/>
<rect x="605.01" y="198.9" width="2.5" height="3.8" fill="#3e917e"/>
<line x1="609.40" y1="192.7" x2="609.40" y2="207.8" stroke="#3e917e" stroke-width="1"/>
<rect x="608.15" y="194.3" width="2.5" height="4.2" fill="#3e917e"/>
<line x1="612.54" y1="191.0" x2="612.54" y2="216.1" stroke="#d3474f" stroke-width="1"/>
<rect x="611.29" y="194.3" width="2.5" height="20.7" fill="#d3474f"/>
<line x1="615.68" y1="201.9" x2="615.68" y2="215.3" stroke="#3e917e" stroke-width="1"/>
<rect x="614.43" y="204.4" width="2.5" height="10.1" fill="#3e917e"/>
<line x1="618.83" y1="202.7" x2="618.83" y2="223.7" stroke="#d3474f" stroke-width="1"/>
<rect x="617.58" y="204.4" width="2.5" height="18.5" fill="#d3474f"/>
<line x1="621.97" y1="205.2" x2="621.97" y2="223.7" stroke="#3e917e" stroke-width="1"/>
<rect x="620.72" y="213.6" width="2.5" height="9.3" fill="#3e917e"/>
<line x1="625.11" y1="188.5" x2="625.11" y2="214.5" stroke="#3e917e" stroke-width="1"/>
<rect x="623.86" y="206.1" width="2.5" height="7.5" fill="#3e917e"/>
<line x1="628.25" y1="160.1" x2="628.25" y2="240.5" stroke="#3e917e" stroke-width="1"/>
<rect x="627.00" y="196.8" width="2.5" height="9.3" fill="#3e917e"/>
<line x1="631.39" y1="179.2" x2="631.39" y2="200.2" stroke="#3e917e" stroke-width="1"/>
<rect x="630.14" y="196.8" width="2.5" height="1.2" fill="#3e917e"/>
<line x1="634.53" y1="182.6" x2="634.53" y2="207.8" stroke="#d3474f" stroke-width="1"/>
<rect x="633.28" y="196.0" width="2.5" height="7.6" fill="#d3474f"/>
<line x1="637.68" y1="203.6" x2="637.68" y2="229.6" stroke="#d3474f" stroke-width="1"/>
<rect x="636.43" y="204.4" width="2.5" height="7.5" fill="#d3474f"/>
<line x1="640.82" y1="211.1" x2="640.82" y2="261.4" stroke="#d3474f" stroke-width="1"/>
<rect x="639.57" y="211.9" width="2.5" height="42.0" fill="#d3474f"/>
<line x1="643.96" y1="247.4" x2="643.96" y2="267.5" stroke="#d3474f" stroke-width="1"/>
<rect x="642.71" y="253.5" width="2.5" height="13.4" fill="#d3474f"/>
<line x1="647.10" y1="239.5" x2="647.10" y2="270.3" stroke="#3e917e" stroke-width="1"/>
<rect x="645.85" y="247.9" width="2.5" height="19.0" fill="#3e917e"/>
<line x1="650.24" y1="245.7" x2="650.24" y2="262.5" stroke="#3e917e" stroke-width="1"/>
<rect x="648.99" y="246.8" width="2.5" height="2.2" fill="#3e917e"/>
<line x1="653.38" y1="244.0" x2="653.38" y2="272.5" stroke="#d3474f" stroke-width="1"/>
<rect x="652.13" y="247.9" width="2.5" height="21.3" fill="#d3474f"/>
<line x1="656.52" y1="268.1" x2="656.52" y2="293.8" stroke="#d3474f" stroke-width="1"/>
<rect x="655.27" y="268.4" width="2.5" height="20.9" fill="#d3474f"/>
<line x1="659.67" y1="279.8" x2="659.67" y2="297.7" stroke="#3e917e" stroke-width="1"/>
<rect x="658.42" y="283.2" width="2.5" height="6.7" fill="#3e917e"/>
<line x1="662.81" y1="272.0" x2="662.81" y2="291.6" stroke="#3e917e" stroke-width="1"/>
<rect x="661.56" y="279.8" width="2.5" height="3.1" fill="#3e917e"/>
<line x1="665.95" y1="252.4" x2="665.95" y2="281.5" stroke="#3e917e" stroke-width="1"/>
<rect x="664.70" y="254.6" width="2.5" height="24.7" fill="#3e917e"/>
<line x1="669.09" y1="253.5" x2="669.09" y2="283.7" stroke="#d3474f" stroke-width="1"/>
<rect x="667.84" y="254.6" width="2.5" height="20.7" fill="#d3474f"/>
<line x1="672.23" y1="273.1" x2="672.23" y2="292.1" stroke="#d3474f" stroke-width="1"/>
<rect x="670.98" y="275.3" width="2.5" height="14.0" fill="#d3474f"/>
<line x1="675.37" y1="263.0" x2="675.37" y2="291.6" stroke="#3e917e" stroke-width="1"/>
<rect x="674.12" y="263.6" width="2.5" height="27.4" fill="#3e917e"/>
<line x1="678.51" y1="255.2" x2="678.51" y2="269.7" stroke="#d3474f" stroke-width="1"/>
<rect x="677.26" y="264.1" width="2.5" height="1.7" fill="#d3474f"/>
<line x1="681.66" y1="249.6" x2="681.66" y2="269.2" stroke="#3e917e" stroke-width="1"/>
<rect x="680.41" y="261.4" width="2.5" height="5.2" fill="#3e917e"/>
<line x1="684.80" y1="241.8" x2="684.80" y2="267.5" stroke="#3e917e" stroke-width="1"/>
<rect x="683.55" y="245.1" width="2.5" height="15.9" fill="#3e917e"/>
<line x1="687.94" y1="241.8" x2="687.94" y2="254.6" stroke="#d3474f" stroke-width="1"/>
<rect x="686.69" y="244.2" width="2.5" height="1.5" fill="#d3474f"/>
<line x1="691.08" y1="217.8" x2="691.08" y2="248.5" stroke="#3e917e" stroke-width="1"/>
<rect x="689.83" y="227.2" width="2.5" height="18.5" fill="#3e917e"/>
<line x1="694.22" y1="218.1" x2="694.22" y2="231.5" stroke="#d3474f" stroke-width="1"/>
<rect x="692.97" y="227.7" width="2.5" height="3.3" fill="#d3474f"/>
<line x1="697.36" y1="213.1" x2="697.36" y2="241.6" stroke="#3e917e" stroke-width="1"/>
<rect x="696.11" y="221.9" width="2.5" height="8.8" fill="#3e917e"/>
<line x1="700.51" y1="210.2" x2="700.51" y2="235.7" stroke="#3e917e" stroke-width="1"/>
<rect x="699.26" y="219.8" width="2.5" height="2.1" fill="#3e917e"/>
<line x1="703.65" y1="193.8" x2="703.65" y2="221.4" stroke="#3e917e" stroke-width="1"/>
<rect x="702.40" y="203.8" width="2.5" height="16.8" fill="#3e917e"/>
<line x1="706.79" y1="151.8" x2="706.79" y2="204.7" stroke="#3e917e" stroke-width="1"/>
<rect x="705.54" y="160.2" width="2.5" height="43.6" fill="#3e917e"/>
<line x1="709.93" y1="141.7" x2="709.93" y2="174.5" stroke="#d3474f" stroke-width="1"/>
<rect x="708.68" y="157.7" width="2.5" height="14.2" fill="#d3474f"/>
<line x1="713.07" y1="135.0" x2="713.07" y2="172.8" stroke="#3e917e" stroke-width="1"/>
<rect x="711.82" y="144.3" width="2.5" height="27.6" fill="#3e917e"/>
<line x1="716.21" y1="103.4" x2="716.21" y2="145.1" stroke="#3e917e" stroke-width="1"/>
<rect x="714.96" y="133.1" width="2.5" height="11.2" fill="#3e917e"/>
<line x1="719.35" y1="102.9" x2="719.35" y2="143.4" stroke="#3e917e" stroke-width="1"/>
<rect x="718.10" y="108.4" width="2.5" height="25.3" fill="#3e917e"/>
<line x1="722.50" y1="56.4" x2="722.50" y2="117.1" stroke="#3e917e" stroke-width="1"/>
<rect x="721.25" y="78.9" width="2.5" height="29.0" fill="#3e917e"/>
<line x1="725.64" y1="63.8" x2="725.64" y2="100.3" stroke="#d3474f" stroke-width="1"/>
<rect x="724.39" y="78.5" width="2.5" height="5.1" fill="#d3474f"/>
<line x1="728.78" y1="70.1" x2="728.78" y2="138.1" stroke="#d3474f" stroke-width="1"/>
<rect x="727.53" y="83.6" width="2.5" height="49.5" fill="#d3474f"/>
<line x1="731.92" y1="133.4" x2="731.92" y2="156.0" stroke="#d3474f" stroke-width="1"/>
<rect x="730.67" y="134.2" width="2.5" height="21.0" fill="#d3474f"/>
<line x1="735.06" y1="135.9" x2="735.06" y2="173.6" stroke="#d3474f" stroke-width="1"/>
<rect x="733.81" y="154.3" width="2.5" height="14.3" fill="#d3474f"/>
<line x1="738.20" y1="138.4" x2="738.20" y2="179.5" stroke="#3e917e" stroke-width="1"/>
<rect x="736.95" y="142.6" width="2.5" height="26.0" fill="#3e917e"/>
<line x1="741.35" y1="133.4" x2="741.35" y2="168.9" stroke="#d3474f" stroke-width="1"/>
<rect x="740.10" y="140.9" width="2.5" height="24.3" fill="#d3474f"/>
<line x1="744.49" y1="160.2" x2="744.49" y2="180.3" stroke="#d3474f" stroke-width="1"/>
<rect x="743.24" y="164.4" width="2.5" height="7.5" fill="#d3474f"/>
<line x1="747.63" y1="144.3" x2="747.63" y2="177.8" stroke="#3e917e" stroke-width="1"/>
<rect x="746.38" y="147.6" width="2.5" height="24.3" fill="#3e917e"/>
<line x1="750.77" y1="145.9" x2="750.77" y2="169.4" stroke="#d3474f" stroke-width="1"/>
<rect x="749.52" y="148.5" width="2.5" height="12.5" fill="#d3474f"/>
<line x1="753.91" y1="155.2" x2="753.91" y2="191.2" stroke="#d3474f" stroke-width="1"/>
<rect x="752.66" y="160.2" width="2.5" height="10.1" fill="#d3474f"/>
<line x1="757.05" y1="146.8" x2="757.05" y2="171.1" stroke="#3e917e" stroke-width="1"/>
<rect x="755.80" y="154.3" width="2.5" height="16.0" fill="#3e917e"/>
<line x1="760.19" y1="125.5" x2="760.19" y2="156.5" stroke="#3e917e" stroke-width="1"/>
<rect x="758.94" y="131.4" width="2.5" height="23.4" fill="#3e917e"/>
<line x1="763.34" y1="120.5" x2="763.34" y2="136.7" stroke="#3e917e" stroke-width="1"/>
<rect x="762.09" y="127.2" width="2.5" height="4.2" fill="#3e917e"/>
<line x1="766.48" y1="122.1" x2="766.48" y2="164.4" stroke="#d3474f" stroke-width="1"/>
<rect x="765.23" y="126.3" width="2.5" height="28.9" fill="#d3474f"/>
<line x1="769.62" y1="148.5" x2="769.62" y2="181.2" stroke="#d3474f" stroke-width="1"/>
<rect x="768.37" y="155.2" width="2.5" height="20.1" fill="#d3474f"/>
<line x1="772.76" y1="153.5" x2="772.76" y2="175.3" stroke="#3e917e" stroke-width="1"/>
<rect x="771.51" y="155.2" width="2.5" height="19.3" fill="#3e917e"/>
<line x1="775.90" y1="141.7" x2="775.90" y2="160.2" stroke="#3e917e" stroke-width="1"/>
<rect x="774.65" y="149.3" width="2.5" height="5.9" fill="#3e917e"/>
<line x1="779.04" y1="144.3" x2="779.04" y2="164.9" stroke="#3e917e" stroke-width="1"/>
<rect x="777.79" y="145.1" width="2.5" height="4.7" fill="#3e917e"/>
<line x1="782.18" y1="128.0" x2="782.18" y2="151.0" stroke="#3e917e" stroke-width="1"/>
<rect x="780.93" y="129.7" width="2.5" height="16.2" fill="#3e917e"/>
<line x1="785.33" y1="128.0" x2="785.33" y2="150.1" stroke="#d3474f" stroke-width="1"/>
<rect x="784.08" y="129.7" width="2.5" height="15.1" fill="#d3474f"/>
<line x1="788.47" y1="131.3" x2="788.47" y2="148.5" stroke="#3e917e" stroke-width="1"/>
<rect x="787.22" y="134.2" width="2.5" height="10.9" fill="#3e917e"/>
<line x1="791.61" y1="132.5" x2="791.61" y2="152.7" stroke="#d3474f" stroke-width="1"/>
<rect x="790.36" y="134.2" width="2.5" height="15.9" fill="#d3474f"/>
<line x1="794.75" y1="146.8" x2="794.75" y2="182.3" stroke="#d3474f" stroke-width="1"/>
<rect x="793.50" y="149.8" width="2.5" height="21.3" fill="#d3474f"/>
<line x1="797.89" y1="170.3" x2="797.89" y2="186.2" stroke="#d3474f" stroke-width="1"/>
<rect x="796.64" y="171.1" width="2.5" height="10.1" fill="#d3474f"/>
<line x1="801.03" y1="145.1" x2="801.03" y2="181.7" stroke="#3e917e" stroke-width="1"/>
<rect x="799.78" y="151.0" width="2.5" height="30.2" fill="#3e917e"/>
<line x1="804.17" y1="113.8" x2="804.17" y2="155.2" stroke="#3e917e" stroke-width="1"/>
<rect x="802.92" y="134.7" width="2.5" height="16.8" fill="#3e917e"/>
<line x1="807.32" y1="108.7" x2="807.32" y2="137.6" stroke="#3e917e" stroke-width="1"/>
<rect x="806.07" y="110.4" width="2.5" height="24.3" fill="#3e917e"/>
<line x1="810.46" y1="95.3" x2="810.46" y2="123.8" stroke="#d3474f" stroke-width="1"/>
<rect x="809.21" y="109.6" width="2.5" height="1.6" fill="#d3474f"/>
<line x1="813.60" y1="97.8" x2="813.60" y2="130.5" stroke="#d3474f" stroke-width="1"/>
<rect x="812.35" y="110.4" width="2.5" height="8.4" fill="#d3474f"/>
<line x1="816.74" y1="118.0" x2="816.74" y2="156.8" stroke="#d3474f" stroke-width="1"/>
<rect x="815.49" y="118.8" width="2.5" height="30.5" fill="#d3474f"/>
<line x1="819.88" y1="146.8" x2="819.88" y2="208.0" stroke="#d3474f" stroke-width="1"/>
<rect x="818.63" y="148.8" width="2.5" height="42.4" fill="#d3474f"/>
<line x1="823.02" y1="169.4" x2="823.02" y2="199.6" stroke="#d3474f" stroke-width="1"/>
<rect x="821.77" y="191.7" width="2.5" height="1.7" fill="#d3474f"/>
<line x1="826.17" y1="192.9" x2="826.17" y2="219.8" stroke="#d3474f" stroke-width="1"/>
<rect x="824.92" y="193.8" width="2.5" height="25.5" fill="#d3474f"/>
<line x1="829.31" y1="187.0" x2="829.31" y2="222.3" stroke="#3e917e" stroke-width="1"/>
<rect x="828.06" y="187.9" width="2.5" height="31.9" fill="#3e917e"/>
<line x1="832.45" y1="185.4" x2="832.45" y2="212.2" stroke="#d3474f" stroke-width="1"/>
<rect x="831.20" y="187.9" width="2.5" height="21.0" fill="#d3474f"/>
<line x1="835.59" y1="201.3" x2="835.59" y2="224.3" stroke="#d3474f" stroke-width="1"/>
<rect x="834.34" y="208.5" width="2.5" height="1.2" fill="#d3474f"/>
<line x1="838.73" y1="189.6" x2="838.73" y2="212.2" stroke="#3e917e" stroke-width="1"/>
<rect x="837.48" y="190.7" width="2.5" height="18.2" fill="#3e917e"/>
<line x1="841.87" y1="184.0" x2="841.87" y2="197.1" stroke="#d3474f" stroke-width="1"/>
<rect x="840.62" y="191.2" width="2.5" height="2.2" fill="#d3474f"/>
<line x1="845.01" y1="192.1" x2="845.01" y2="208.9" stroke="#d3474f" stroke-width="1"/>
<rect x="843.76" y="192.9" width="2.5" height="11.8" fill="#d3474f"/>
<line x1="848.16" y1="192.9" x2="848.16" y2="232.0" stroke="#d3474f" stroke-width="1"/>
<rect x="846.91" y="204.7" width="2.5" height="17.2" fill="#d3474f"/>
</g>
<g stroke="#262626" stroke-width="1.1" fill="none">
<line x1="175.4" y1="310.3" x2="804.8" y2="14.3"/>
<line x1="295.2" y1="493.1" x2="936.6" y2="152.8"/>
</g>
<g clip-path="url(#paxis)" font-size="10.4" fill="#303030">
<text x="1016" y="50.3" textLength="42.0" lengthAdjust="spacingAndGlyphs">116.000</text>
<text x="1016" y="92.4" textLength="42.0" lengthAdjust="spacingAndGlyphs">111.000</text>
<text x="1016" y="136.4" textLength="42.0" lengthAdjust="spacingAndGlyphs">106.000</text>
<text x="1016" y="173.1" textLength="42.0" lengthAdjust="spacingAndGlyphs">102.000</text>
<text x="1016" y="211.3" textLength="35.8" lengthAdjust="spacingAndGlyphs">98.000</text>
<text x="1016" y="251.1" textLength="35.8" lengthAdjust="spacingAndGlyphs">94.000</text>
<text x="1016" y="292.7" textLength="35.8" lengthAdjust="spacingAndGlyphs">90.000</text>
<text x="1016" y="336.1" textLength="35.8" lengthAdjust="spacingAndGlyphs">86.000</text>
<text x="1016" y="370.0" textLength="35.8" lengthAdjust="spacingAndGlyphs">83.000</text>
<text x="1016" y="405.1" textLength="35.8" lengthAdjust="spacingAndGlyphs">80.000</text>
<text x="1016" y="441.6" textLength="35.8" lengthAdjust="spacingAndGlyphs">77.000</text>
<text x="1016" y="473.2" textLength="35.8" lengthAdjust="spacingAndGlyphs">74.500</text>
<text x="1016" y="505.8" textLength="35.8" lengthAdjust="spacingAndGlyphs">72.000</text>
<text x="1016" y="539.5" textLength="35.8" lengthAdjust="spacingAndGlyphs">69.500</text>
<text x="1016" y="567.4" textLength="35.8" lengthAdjust="spacingAndGlyphs">67.500</text>
</g>
<rect x="1010.5" y="3.5" width="58" height="23.5" rx="2" fill="#fff" stroke="#f1f1f1"/>
<text x="1019.3" y="19.6" font-size="10.4" fill="#303030" textLength="21.5" lengthAdjust="spacingAndGlyphs">USD</text>
<rect x="1008" y="214.5" width="59" height="27.5" rx="1.5" fill="#df444e"/>
<text x="1015.8" y="225.9" font-size="10.4" fill="#fce4e5" textLength="35.2" lengthAdjust="spacingAndGlyphs">96.500</text>
<text x="1015.8" y="238.7" font-size="10.4" fill="#f7c3c7" textLength="45" lengthAdjust="spacingAndGlyphs">19:47:31</text>
<g clip-path="url(#taxis)" font-size="11" font-weight="bold" fill="#303030">
<text x="4.9" y="582.4" textLength="27.9" lengthAdjust="spacingAndGlyphs">2004</text>
<text x="80.3" y="582.4" textLength="27.9" lengthAdjust="spacingAndGlyphs">2006</text>
<text x="155.7" y="582.4" textLength="27.9" lengthAdjust="spacingAndGlyphs">2008</text>
<text x="231.1" y="582.4" textLength="27.9" lengthAdjust="spacingAndGlyphs">2010</text>
<text x="306.5" y="582.4" textLength="27.9" lengthAdjust="spacingAndGlyphs">2012</text>
<text x="381.9" y="582.4" textLength="27.9" lengthAdjust="spacingAndGlyphs">2014</text>
<text x="457.3" y="582.4" textLength="27.9" lengthAdjust="spacingAndGlyphs">2016</text>
<text x="532.7" y="582.4" textLength="27.9" lengthAdjust="spacingAndGlyphs">2018</text>
<text x="608.1" y="582.4" textLength="27.9" lengthAdjust="spacingAndGlyphs">2020</text>
<text x="683.5" y="582.4" textLength="27.9" lengthAdjust="spacingAndGlyphs">2022</text>
<text x="758.9" y="582.4" textLength="27.9" lengthAdjust="spacingAndGlyphs">2024</text>
<text x="834.3" y="582.4" textLength="27.9" lengthAdjust="spacingAndGlyphs">2026</text>
<text x="909.7" y="582.4" textLength="27.9" lengthAdjust="spacingAndGlyphs">2028</text>
<text x="985.0" y="582.4" textLength="27.9" lengthAdjust="spacingAndGlyphs">2030</text>
</g>
<text y="19.7" font-size="11" fill="#303030"><tspan x="16.7" textLength="83.3" lengthAdjust="spacingAndGlyphs">U.S. Dollar Index</tspan><tspan x="103.6">·</tspan><tspan x="108.9" textLength="15" lengthAdjust="spacingAndGlyphs">1M</tspan><tspan x="127.5">·</tspan><tspan x="134.3" textLength="20.1" lengthAdjust="spacingAndGlyphs">TVC</tspan><tspan fill="#62a18f" x="161.8" textLength="35" lengthAdjust="spacingAndGlyphs">96.500</tspan><tspan fill="#62a18f" x="204.2" textLength="35.4" lengthAdjust="spacingAndGlyphs">+0.338</tspan><tspan fill="#62a18f" x="244.4" textLength="45.9" lengthAdjust="spacingAndGlyphs">(+0.35%)</tspan></text>
<g><rect x="846" y="537" width="4.5" height="26" fill="#fff"/><circle cx="848.2" cy="553.6" r="8.9" fill="#fff" stroke="#6e3f93" stroke-width="1.2"/><path d="M850.6 549.2 L844.3 554.7 L847.9 554.3 L845.2 558.6 L851.9 553 L848.1 553.4 Z" fill="#6e3f93" stroke="#6e3f93" stroke-width="0.5" stroke-linejoin="round"/><circle cx="854.1" cy="547.6" r="3.5" fill="#fff"/><circle cx="854.1" cy="547.6" r="2.3" fill="#d6404c"/></g>
<g fill="#161616"><path d="M10.8 609.9 H21.7 V623.8 H16.1 V615.5 H10.8 Z"/><circle cx="26" cy="612.6" r="2.75"/><path d="M29.7 609.9 H37.7 L32.8 623.8 H26.4 Z"/></g>
<text x="44.4" y="623.6" font-size="18.2" font-weight="bold" fill="#161616" textLength="107.8" lengthAdjust="spacingAndGlyphs">TradingView</text>
<text x="749.3" y="615.6" font-size="38" font-weight="bold" fill="#3a3a3a" stroke="#3a3a3a" stroke-width="1.8" stroke-linejoin="round" textLength="34" lengthAdjust="spacingAndGlyphs">@</text>
<g transform="translate(786.2,621.9) scale(1,1.3)"><text x="0" y="0" font-size="36" font-weight="bold" fill="#3a3a3a" stroke="#3a3a3a" stroke-width="2.4" stroke-linejoin="round" textLength="262.5" lengthAdjust="spacingAndGlyphs">AgarwoodCapital</text></g>
<g fill="#b3b3b3"><path d="M622.5 602.5 L620.8 608.6 L628 605 Z"/><ellipse cx="631.4" cy="594.4" rx="14" ry="11"/><ellipse cx="645.5" cy="604.2" rx="13.6" ry="11.1" fill="#fff"/><path d="M652.5 611.5 L655.2 616 L648 613.8 Z"/><ellipse cx="645.5" cy="604.2" rx="12.5" ry="10"/><circle cx="626.2" cy="591.1" r="1.7" fill="#fff"/><circle cx="636.7" cy="591.1" r="1.7" fill="#fff"/><circle cx="641.4" cy="602.2" r="1.45" fill="#fff"/><circle cx="650.3" cy="602.2" r="1.45" fill="#fff"/></g>
<text x="668" y="611" font-size="29" fill="#b6b6b6" textLength="89" lengthAdjust="spacing">公众号</text>
<text x="793" y="611" font-size="30" fill="#b9b9b9" fill-opacity="0.42" textLength="252" lengthAdjust="spacingAndGlyphs">AgarwoodCapital</text>
</svg></body></html>
